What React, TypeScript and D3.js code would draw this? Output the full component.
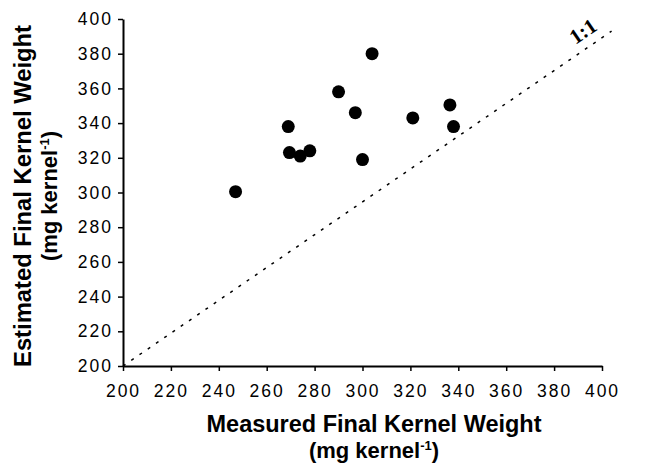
import React, { useRef, useEffect } from 'react';
import * as d3 from 'd3';

// measured vs estimated final kernel weight (mg kernel-1)
const measured = [247, 269, 269.5, 274, 278, 290, 304, 297, 300, 321, 336.5, 338];
const estimated = [300.5, 338, 323, 321, 324, 358, 380, 346, 319, 343, 350.5, 338];

const xTicks = [200, 220, 240, 260, 280, 300, 320, 340, 360, 380, 400];
const yTicks = [200, 220, 240, 260, 280, 300, 320, 340, 360, 380, 400];

// the "1:1" reference line as drawn in the figure
const refLineX = [200, 404];
const refLineY = [200, 393];

const App = () => {
  const chart = useRef<SVGSVGElement>(null);

  useEffect(() => {
    const width = 645,
      height = 463;
    const margin = { top: 19, right: 43, bottom: 97, left: 123 };

    const svg = d3.select(chart.current);
    svg.selectAll('*').remove();

    const x = d3.scaleLinear().domain([200, 400]).range([margin.left, 602]);
    const y = d3.scaleLinear().domain([200, 400]).range([height - margin.bottom, margin.top]);

    const font = '"Liberation Sans", Arial, sans-serif';

    // reference line
    const line = d3
      .line<number>()
      .x((d) => x(refLineX[d]))
      .y((d) => y(refLineY[d]));
    svg
      .append('path')
      .attr('d', line([0, 1]))
      .attr('fill', 'none')
      .attr('stroke', '#000')
      .attr('stroke-width', 1.5)
      .attr('stroke-dasharray', '3,7');

    // 1:1 label
    const x0 = x(refLineX[0]),
      y0 = y(refLineY[0]),
      x1 = x(refLineX[1]),
      y1 = y(refLineY[1]);
    const angle = (Math.atan2(y1 - y0, x1 - x0) * 180) / Math.PI;
    const t = 0.96;
    svg
      .append('text')
      .attr(
        'transform',
        'translate(' + (x0 + (x1 - x0) * t) + ',' + (y0 + (y1 - y0) * t) + ') rotate(' + angle + ')'
      )
      .attr('y', -9)
      .attr('text-anchor', 'middle')
      .style('font-family', '"Liberation Serif", "DejaVu Serif", serif')
      .style('font-weight', 'bold')
      .style('font-size', '21px')
      .text('1:1');

    // axes
    const xAxis = svg
      .append('g')
      .attr('transform', 'translate(0,' + (height - margin.bottom) + ')')
      .call(d3.axisBottom(x).tickValues(xTicks).tickSize(5).tickSizeOuter(0).tickPadding(14));
    const yAxis = svg
      .append('g')
      .attr('transform', 'translate(' + margin.left + ',0)')
      .call(d3.axisLeft(y).tickValues(yTicks).tickSize(5).tickSizeOuter(0).tickPadding(5));

    [xAxis, yAxis].forEach((g) => {
      g.select('.domain').attr('stroke', '#000').attr('stroke-width', 2);
      g.selectAll('.tick line').attr('stroke', '#000').attr('stroke-width', 1.5);
      g.selectAll('.tick text')
        .attr('fill', '#000')
        .style('font-family', font)
        .style('font-size', '17.5px')
        .style('letter-spacing', '2px');
    });

    // points
    svg
      .append('g')
      .selectAll('circle')
      .data(measured)
      .enter()
      .append('circle')
      .attr('cx', (d) => x(d))
      .attr('cy', (d, i) => y(estimated[i]))
      .attr('r', 6.5)
      .attr('fill', '#000');

    // x title
    svg
      .append('text')
      .attr('x', 374)
      .attr('y', 432)
      .attr('text-anchor', 'middle')
      .attr('textLength', 335)
      .attr('lengthAdjust', 'spacingAndGlyphs')
      .style('font-family', font)
      .style('font-weight', 'bold')
      .style('font-size', '23px')
      .text('Measured Final Kernel Weight');
    const xt2 = svg
      .append('text')
      .attr('x', 374)
      .attr('y', 458)
      .attr('text-anchor', 'middle')
      .style('font-family', font)
      .style('font-weight', 'bold')
      .style('font-size', '22px');
    xt2.append('tspan').text('(mg kernel');
    xt2.append('tspan').attr('dy', -8).style('font-size', '13px').text('-1');
    xt2.append('tspan').attr('dy', 8).text(')');

    // y title
    const yt = svg.append('g').attr('transform', 'translate(0,196) rotate(-90)');
    yt.append('text')
      .attr('x', 0)
      .attr('y', 31)
      .attr('text-anchor', 'middle')
      .attr('textLength', 342)
      .attr('lengthAdjust', 'spacingAndGlyphs')
      .style('font-family', font)
      .style('font-weight', 'bold')
      .style('font-size', '23px')
      .text('Estimated Final Kernel Weight');
    const yt2 = yt
      .append('text')
      .attr('x', 0)
      .attr('y', 57)
      .attr('text-anchor', 'middle')
      .style('font-family', font)
      .style('font-weight', 'bold')
      .style('font-size', '22px');
    yt2.append('tspan').text('(mg kernel');
    yt2.append('tspan').attr('dy', -8).style('font-size', '13px').text('-1');
    yt2.append('tspan').attr('dy', 8).text(')');

    svg.attr('width', width).attr('height', height);
  }, []);

  return (
    <svg
      ref={chart}
      width={645}
      height={463}
      style={{ position: 'absolute', left: 0, top: 0, background: '#fff' }}
    ></svg>
  );
};

export default App;
